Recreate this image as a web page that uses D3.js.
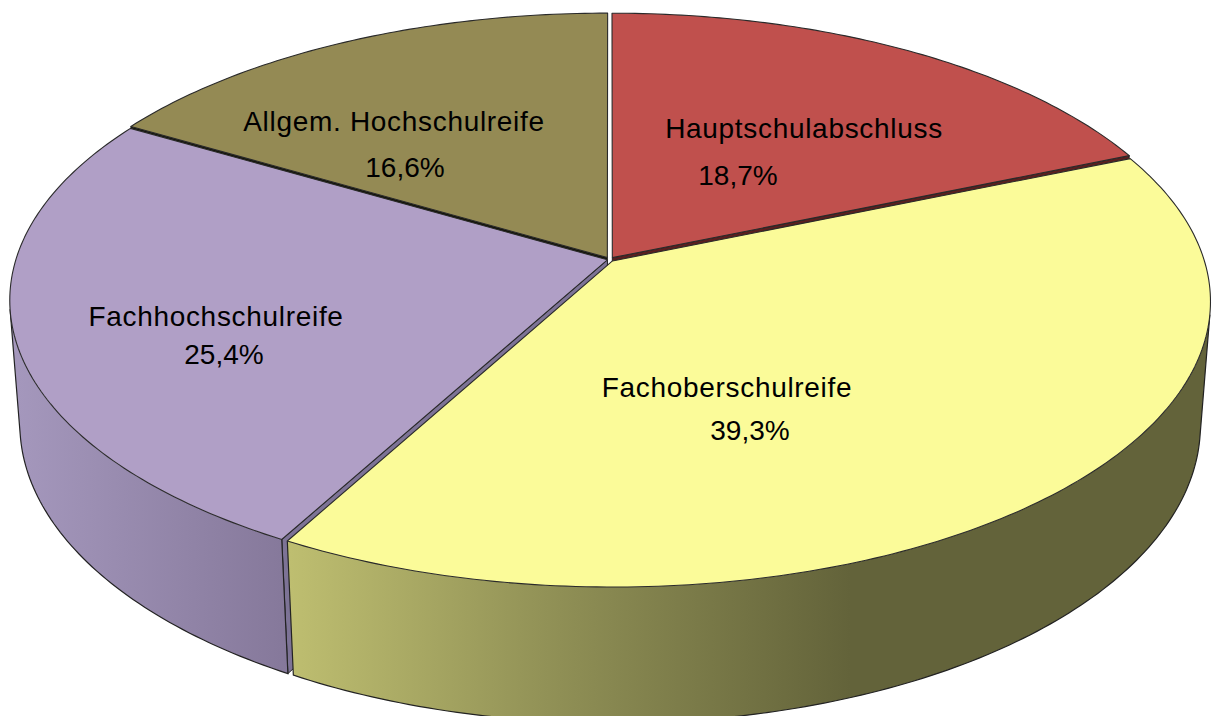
<!DOCTYPE html>
<html>
<head>
<meta charset="utf-8">
<script src="https://cdn.jsdelivr.net/npm/d3@7"></script>
<style>
  body { margin: 0; background: #fff; }
  svg { display: block; }
  text { font-family: "Liberation Sans", Arial, sans-serif; font-size: 28px; fill: #000; text-anchor: middle; }
  .name { letter-spacing: 0.69px; }
</style>
</head>
<body>
<div id="wrapper"></div>
<script>
// data
const categories = ["Hauptschulabschluss", "Fachoberschulreife", "Fachhochschulreife", "Allgem. Hochschulreife"]
const shares = [18.7, 39.3, 25.4, 16.6]
const shareLabels = ["18,7%", "39,3%", "25,4%", "16,6%"]

// styles
const topColors = ["#c0504d", "#fbfb99", "#b09fc6", "#948a54"]
const cutColors = ["#5a1f1f", null, "#7d7396", "#141408"]
const cutSide = ["end", null, "start", "start"]
const explode = [0.008, 0.007, 0.004, 0.008]
const wallStops = [
  null,
  { x: [290, 560, 850, 1212], color: ["#bebe70", "#8f8f55", "#63633a", "#63633a"] },
  { x: [10, 290], color: ["#a598bd", "#85789a"] },
  null,
]
const labelNames = [[804, 138], [727, 397], [216, 326], [394, 131]]
const labelValues = [[738, 185], [750, 440], [224, 364], [405, 177]]

const dimensions = { width: 1212, height: 716 }

// camera: the pie lies flat and is seen from above, front edge nearest
const camera = { cx: 609.7, cy: 259.5, radiusX: 591.5, radiusY: 279.5, dist: 7.07, depth: 124.4, depthFall: 0.118 }

const project = (angle, r, z, mid, shift) => {
  const u = r * Math.sin(angle) + shift * Math.sin(mid)
  const v = -r * Math.cos(angle) - shift * Math.cos(mid)
  const f = camera.dist / (camera.dist - v + camera.depthFall * z)
  return [
    camera.cx + camera.radiusX * u * f,
    camera.cy + (camera.radiusY * v + camera.depth * z) * f,
  ]
}

const wrapper = d3.select("#wrapper")
  .append("svg")
    .attr("width", dimensions.width)
    .attr("height", dimensions.height)

const defs = wrapper.append("defs")
const bounds = wrapper.append("g")

const pie = d3.pie().sort(null).value(d => d)
const arcs = pie(shares)
const line = d3.line()

const arcAngles = (a0, a1) => d3.range(0, 1.0001, 1 / Math.ceil((a1 - a0) / 0.015))
  .map(t => a0 + (a1 - a0) * t)

const drawCut = (d, i) => {
  if (!cutSide[i]) return
  const mid = (d.startAngle + d.endAngle) / 2
  const a = cutSide[i] == "end" ? d.endAngle : d.startAngle
  const corners = [[0, 0], [1, 0], [1, 1], [0, 1]].map(c => project(a, c[0], c[1], mid, explode[i]))
  bounds.append("path")
    .attr("d", line(corners) + "Z")
    .attr("fill", cutColors[i])
    .attr("stroke", "#222")
    .attr("stroke-width", 1)
}

const drawWall = (d, i) => {
  if (!wallStops[i]) return
  const mid = (d.startAngle + d.endAngle) / 2
  const angles = arcAngles(d.startAngle, d.endAngle)
  const upper = angles.map(a => project(a, 1, 0, mid, explode[i]))
  const lower = angles.map(a => project(a, 1, 1, mid, explode[i]))

  // only the part of the wall that faces the viewer
  const visible = []
  angles.forEach((a, k) => {
    if (k == angles.length - 1) return
    const tx = upper[k + 1][0] - upper[k][0]
    const ty = upper[k + 1][1] - upper[k][1]
    const ex = lower[k][0] - upper[k][0]
    const ey = lower[k][1] - upper[k][1]
    if (tx * ey - ty * ex < 0) visible.push(k)
  })
  const first = visible[0]
  const last = visible[visible.length - 1] + 1

  const xScale = d3.scaleLinear()
    .domain(d3.extent(wallStops[i].x))
    .range([0, 1])
  const gradient = defs.append("linearGradient")
    .attr("id", `wall-${i}`)
    .attr("gradientUnits", "userSpaceOnUse")
    .attr("x1", xScale.domain()[0])
    .attr("x2", xScale.domain()[1])
    .attr("y1", 0)
    .attr("y2", 0)
  gradient.selectAll("stop")
    .data(wallStops[i].x)
    .enter().append("stop")
      .attr("offset", d => xScale(d))
      .attr("stop-color", (d, k) => wallStops[i].color[k])

  bounds.append("path")
    .attr("d", line([...upper.slice(first, last + 1), ...lower.slice(first, last + 1).reverse()]) + "Z")
    .attr("fill", `url(#wall-${i})`)
  bounds.append("path")
    .attr("d", line([upper[first], ...lower.slice(first, last + 1), upper[last]]))
    .attr("fill", "none")
    .attr("stroke", "#222")
    .attr("stroke-width", 1.2)
}

const drawTop = (d, i) => {
  const mid = (d.startAngle + d.endAngle) / 2
  const rim = arcAngles(d.startAngle, d.endAngle).map(a => project(a, 1, 0, mid, explode[i]))
  bounds.append("path")
    .attr("d", line([project(mid, 0, 0, mid, explode[i]), ...rim]) + "Z")
    .attr("fill", topColors[i])
    .attr("stroke", "#2a2a2a")
    .attr("stroke-width", 1.1)
    .attr("stroke-linejoin", "round")
}

// far slices first, yellow last because it sits in front
const paintOrder = [0, 3, 2, 1]
paintOrder.forEach(i => {
  drawCut(arcs[i], i)
  drawWall(arcs[i], i)
  drawTop(arcs[i], i)
})

// labels
categories.forEach((name, i) => {
  bounds.append("text")
    .attr("class", "name")
    .attr("x", labelNames[i][0])
    .attr("y", labelNames[i][1])
    .text(name)
  bounds.append("text")
    .attr("x", labelValues[i][0])
    .attr("y", labelValues[i][1])
    .text(shareLabels[i])
})
</script>
</body>
</html>
